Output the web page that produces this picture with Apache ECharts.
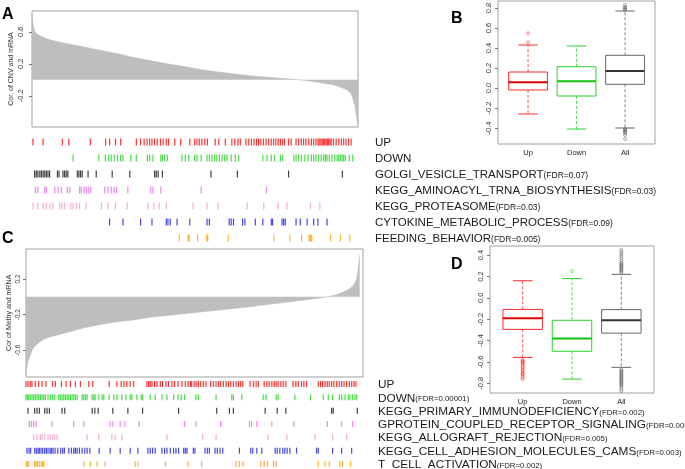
<!DOCTYPE html>
<html><head><meta charset="utf-8">
<script src="https://cdn.jsdelivr.net/npm/echarts@6/dist/echarts.min.js"></script>
<style>html,body{margin:0;padding:0;background:#fff}#c{width:685px;height:469px}</style>
</head><body><div id="c"></div>
<script>
// ---------- Panel A: ranked correlation of CNV and mRNA ----------
const rankA = [0,0.3,0.6,0.9,1.5,2.5,4,5.5,8.6,14.7,20.9,27,31,36.2,41.4,46.9,51.5,56.7,61.7,66.9,72.1,77,82.2,86.8,89.9,92.3,94.5,96.6,97.9,98.5,99.1,99.4,99.7,100];
const corA  = [0.82,0.70,0.64,0.60,0.57,0.55,0.52,0.50,0.47,0.42,0.37,0.32,0.28,0.24,0.20,0.165,0.13,0.10,0.075,0.05,0.033,0.015,0.0,-0.025,-0.045,-0.06,-0.09,-0.125,-0.17,-0.25,-0.33,-0.42,-0.50,-0.55];
const ticksA = [-0.2, 0.2, 0.6];

const namesA = ['UP','DOWN','GOLGI_VESICLE_TRANSPORT','KEGG_AMINOACYL_TRNA_BIOSYNTHESIS','KEGG_PROTEASOME','CYTOKINE_METABOLIC_PROCESS','FEEDING_BEHAVIOR'];
const fdrA = ['','','0.07','0.03','0.03','0.09','0.005'];
const upA = [0.3,3.4,9.3,11.3,17.9,22.6,23.8,25.6,27.2,32.0,33.3,34.4,35.3,36.1,36.8,37.6,38.4,39.4,40.2,41.2,41.9,43.8,45.6,48.4,49.9,50.6,51.3,52.1,53.0,53.8,56.2,57.3,59.3,61.3,62.2,63.2,63.9,65.6,66.5,67.3,68.1,68.9,69.5,70.2,71.0,71.8,72.6,73.4,74.1,74.8,75.5,76.2,76.9,77.5,78.7,79.5,81.0,81.8,82.6,83.3,84.0,84.9,85.7,86.4,87.1,87.7,88.1,88.6,89.0,89.4,89.8,90.2,90.6,91.0,91.4,91.8,92.5,93.3,94.1,94.9,95.6,96.3,97.1,97.9];
const downA = [12.6,20.5,22.5,23.5,24.3,25.2,26.2,27.2,27.9,30.3,32.0,35.4,36.1,37.1,39.5,40.0,40.7,41.5,46.0,47.0,48.1,49.9,50.6,51.9,53.7,54.4,55.2,56.0,56.7,57.5,58.3,59.1,59.8,61.1,62.4,63.4,70.8,72.1,73.4,74.4,76.2,76.9,80.3,81.0,81.8,82.6,83.7,84.7,85.7,86.4,87.1,87.9,88.7,89.5,90.0,90.5,91.2,92.0,92.9,93.6,94.1,94.6,95.1,95.6,96.1,97.3,98.4];
const golgiA = [0.8,1.3,1.8,2.4,2.9,3.4,3.9,4.4,4.9,5.4,7.8,8.3,9.5,10.0,10.5,11.0,13.9,14.4,14.9,15.4,17.2,19.7,24.6,30.0,37.6,38.1,38.7,40.0,54.9,63.0,78.7,95.2];
const aminoacylA = [1.0,1.8,3.9,4.4,7.0,8.0,9.0,10.8,11.6,14.6,15.1,16.0,16.7,17.4,18.0,22.3,23.3,24.3,25.2,25.9,29.4,36.4,37.1,39.5,51.9,71.9];
const proteasomeA = [0.3,1.8,3.4,4.4,5.5,6.4,8.5,9.2,10.0,11.9,12.6,13.6,14.6,16.6,21.3,23.3,25.6,29.2,35.6,37.4,39.0,41.2,49.4,53.7,57.1,66.0,71.1,75.5,78.2,85.4,88.3];
const cytokineA = [23.8,27.9,33.3,36.8,41.2,41.7,42.4,44.5,48.4,53.7,54.4,60.5,61.1,61.8,64.6,65.3,68.5,70.8,73.4,73.8,76.7,77.2,77.7,81.0,82.3,84.4,86.4,87.7,90.5];
const feedingA = [45.2,47.9,48.2,50.8,53.6,53.9,60.2,74.2,79.1,82.7,85.0,85.4,85.8,91.6,94.6,97.5];

// ---------- Panel B: boxplots ----------
const boxCats = ['Up','Down','All'];
const boxB = [[-0.26,-0.02,0.057,0.16,0.43],[-0.41,-0.08,0.067,0.213,0.42],[-0.40,0.037,0.17,0.327,0.77]];
const outUpB = [0.457,0.547];
const outDownB = [];
const outAllB = [0.78,0.79,0.80,0.81,0.83,-0.41,-0.415,-0.42,-0.43,-0.44,-0.45,-0.47,-0.51];
const ticksB = [-0.4,-0.2,0,0.2,0.4,0.6,0.8];

// ---------- Panel C: ranked correlation of methylation and mRNA ----------
const rankC = [0,0.3,0.6,1.2,2.1,3.3,5.1,7.2,12.3,17.1,22.2,27.3,32.1,37.2,42.3,47.1,52.3,57.4,62.2,67.3,72.4,77.2,82.3,86.8,90.4,92.8,95.2,97,98.2,99.1,99.5,99.8,100];
const corC  = [-0.85,-0.78,-0.72,-0.66,-0.58,-0.53,-0.48,-0.45,-0.40,-0.35,-0.31,-0.28,-0.26,-0.23,-0.21,-0.19,-0.17,-0.15,-0.13,-0.11,-0.085,-0.065,-0.04,-0.02,0.0,0.02,0.054,0.09,0.13,0.2,0.3,0.4,0.47];
const ticksC = [-0.6, -0.2, 0.2];

const namesC = ['UP','DOWN','KEGG_PRIMARY_IMMUNODEFICIENCY','GPROTEIN_COUPLED_RECEPTOR_SIGNALING','KEGG_ALLOGRAFT_REJECTION','KEGG_CELL_ADHESION_MOLECULES_CAMS','T_CELL_ACTIVATION'];
const fdrC = ['','0.00001','0.002','0.005','0.005','0.003','0.002'];
const upC = [0.0,0.6,1.3,1.8,2.8,3.8,4.8,6.0,8.0,8.8,10.6,12.0,13.3,14.8,16.3,18.8,20.0,24.9,27.2,28.5,29.3,30.2,31.2,32.2,36.2,36.7,37.2,37.7,38.5,39.2,40.2,40.9,41.9,42.7,43.7,44.5,45.5,46.7,47.7,48.5,49.2,49.6,50.3,50.9,51.6,52.3,53.1,53.9,55.3,56.1,56.9,57.6,58.3,59.1,59.9,60.6,61.3,62.1,62.9,63.6,64.3,64.9,67.1,68.1,68.9,69.6,71.3,72.1,72.8,73.6,74.3,74.9,75.5,76.3,77.0,77.8,79.9,80.8,81.5,82.5,83.2,84.0,87.5,88.2,88.8,89.5,90.2,90.8,91.5,92.2,93.0,93.8,94.5,95.2,96.0,96.8,97.5,98.2,98.8];
const downC = [0.0,0.4,0.8,1.3,1.8,2.3,2.8,3.3,3.8,4.3,4.8,5.3,5.8,6.6,7.3,8.0,8.6,9.8,10.3,10.8,11.3,11.8,12.3,12.8,13.3,13.8,14.3,14.8,15.3,16.8,17.3,17.8,18.3,19.8,20.3,20.7,21.8,22.8,23.3,24.9,26.3,27.2,28.7,29.9,31.2,31.7,33.2,34.5,34.9,37.2,38.7,40.7,42.2,44.2,45.5,46.5,47.5,50.9,51.6,56.9,61.6,62.1,64.6,71.0,71.9,74.9,75.5,80.5,85.2,89.0,90.5,91.8,93.8,94.5,95.5,96.5,97.0,97.8,98.5,99.0];
const immunoC = [0.6,2.6,3.3,4.0,5.6,6.3,7.0,10.8,11.6,19.8,20.6,21.6,26.0,30.5,34.9,45.7,57.1,60.9,62.1,71.6,75.2,77.8,91.5,92.0,99.2];
const gproteinC = [1.0,1.6,2.3,3.0,7.8,14.3,17.3,25.2,26.0,28.2,29.6,33.9,47.5,50.9,58.3,66.9,67.6,69.1,73.6,80.2,90.2,94.5,97.8];
const allograftC = [2.3,3.3,4.3,4.8,5.6,6.6,7.3,8.0,8.6,9.3,18.3,21.8,25.7,26.7,28.7,42.2,52.9,56.9,72.5,78.1,86.5,91.8,96.0];
const adhesionC = [0.3,0.9,1.4,2.6,3.1,3.6,4.0,4.5,5.0,5.6,6.1,6.6,7.2,7.6,8.1,8.7,9.5,10.4,11.0,11.5,12.8,13.6,14.3,14.8,15.3,16.0,16.8,17.6,18.3,19.1,21.9,25.2,28.2,31.2,33.5,36.5,37.2,37.9,38.7,40.7,41.5,42.2,43.2,44.2,44.9,45.7,47.2,47.7,48.2,50.1,50.6,53.6,54.3,54.9,56.6,57.3,58.1,58.9,63.9,67.3,67.9,69.1,70.6,74.6,75.2,76.0,76.9,77.5,78.2,79.0,81.0,87.0,87.5,91.8,94.5,97.5];
const tcellC = [0.0,0.4,0.8,2.6,3.0,3.4,4.0,4.6,5.0,5.4,17.3,19.3,21.3,23.7,32.7,33.5,41.7,48.5,52.6,62.9,63.9,64.9,70.3,71.3,72.3,74.1,74.9,87.5,89.5,90.8,94.0,94.8,97.2];

// ---------- Panel D: boxplots ----------
const boxD = [[-0.557,-0.295,-0.19,-0.108,0.16],[-0.76,-0.50,-0.38,-0.21,0.18],[-0.65,-0.33,-0.21,-0.11,0.22]];
const outUpD = [-0.58,-0.59,-0.60,-0.61,-0.62,-0.64,-0.65,-0.67,-0.68,-0.70,-0.71,-0.72,-0.74,-0.76];
const outDownD = [0.25];
const outAllD = [0.235,0.245,0.255,0.265,0.275,0.285,0.295,0.30,0.31,0.32,0.33,0.35,0.37,0.39,0.41,0.43,0.45,-0.67,-0.68,-0.69,-0.70,-0.71,-0.72,-0.73,-0.74,-0.75,-0.76,-0.77,-0.78,-0.79,-0.80,-0.81,-0.82,-0.83,-0.85,-0.87];
const ticksD = [-0.8,-0.6,-0.4,-0.2,0,0.2,0.4];

// ---------- styling ----------
const FONT = 'Liberation Sans, Arial, sans-serif';
const setColors = ['#ff0000','#1fd41f','#111111','#dd6fe8','#f09cc4','#1a1ae0','#ffa000'];
const boxColors = ['#ff2a2a','#2ad42a','#666666'];
const medColors = ['#e00000','#10c010','#333333'];
const frameColor = '#a0a0a0';

const chart = echarts.init(document.getElementById('c'), null, {renderer:'canvas'});

function fmt1(v){ return (Math.abs(v) < 1e-9 ? 0 : v).toFixed(1); }

function valY(grid, min, max, ticks, opts) {
  return Object.assign({
    type:'value', gridIndex:grid, min:min, max:max, splitLine:{show:false},
    axisLine:{show:false},
    axisTick:{show:true, length:3, lineStyle:{color:'#555', width:0.8}, customValues:ticks},
    axisLabel:{show:true, rotate:90, fontSize:7.5, color:'#333', fontFamily:FONT, margin:5, customValues:ticks, formatter:fmt1}
  }, opts || {});
}
function hiddenX(grid, min, max){ return {type:'value', gridIndex:grid, min:min, max:max, show:false}; }
function hiddenY(grid, min, max){ return {type:'value', gridIndex:grid, min:min, max:max, show:false}; }

function setAxis(grid, names, fdr, mainSize, fdrSize, margin){
  return {
    type:'category', gridIndex:grid, data:names, inverse:true, position:'right',
    axisLine:{show:false}, axisTick:{show:false}, splitLine:{show:false},
    axisLabel:{margin:margin, align:'left', interval:0, hideOverlap:false,
      formatter:function(v, i){ return fdr[i] ? '{m|' + v + '}{f|(FDR=' + fdr[i] + ')}' : '{m|' + v + '}'; },
      rich:{ m:{fontSize:mainSize, fontFamily:FONT, color:'#1a1a1a', verticalAlign:'bottom', lineHeight:mainSize+2},
             f:{fontSize:fdrSize, fontFamily:FONT, color:'#1a1a1a', verticalAlign:'bottom', lineHeight:mainSize+2, padding:[0,0,1,0]} }
    }
  };
}
function catAxis(grid){
  return {type:'category', gridIndex:grid, data:boxCats, boundaryGap:true,
    axisLine:{show:false}, axisTick:{show:false},
    axisLabel:{fontSize:7.5, color:'#222', fontFamily:FONT, margin:5}};
}

function barcodeSeries(sets, xi, yi, h){
  return sets.map(function(s, i){
    return {type:'scatter', xAxisIndex:xi, yAxisIndex:yi, symbol:'rect', symbolSize:[1.2, h], silent:true,
      itemStyle:{color:setColors[i]}, data:s.map(function(p){ return [p, i]; })};
  });
}

function boxSeries(stats, xi, yi){
  return {
    type:'custom', xAxisIndex:xi, yAxisIndex:yi, silent:true,
    data: stats.map(function(s, i){ return [i].concat(s); }),
    encode:{x:0, y:[1,2,3,4,5]},
    renderItem:function(params, api){
      var i = api.value(0);
      var lo = api.coord([i, api.value(1)]), q1 = api.coord([i, api.value(2)]),
          md = api.coord([i, api.value(3)]), q3 = api.coord([i, api.value(4)]),
          hi = api.coord([i, api.value(5)]);
      var bw = api.size([1, 0])[0] * 0.8, x = md[0], c = boxColors[i];
      var dash = {stroke:c, lineWidth:0.8, lineDash:[3,2], fill:null};
      var solid = {stroke:c, lineWidth:1, fill:null};
      return {type:'group', children:[
        {type:'line', shape:{x1:x, y1:q3[1], x2:x, y2:hi[1]}, style:dash},
        {type:'line', shape:{x1:x, y1:q1[1], x2:x, y2:lo[1]}, style:dash},
        {type:'line', shape:{x1:x-bw/4, y1:hi[1], x2:x+bw/4, y2:hi[1]}, style:solid},
        {type:'line', shape:{x1:x-bw/4, y1:lo[1], x2:x+bw/4, y2:lo[1]}, style:solid},
        {type:'rect', shape:{x:x-bw/2, y:q3[1], width:bw, height:q1[1]-q3[1]}, style:{stroke:c, lineWidth:1, fill:'#fff'}},
        {type:'line', shape:{x1:x-bw/2, y1:md[1], x2:x+bw/2, y2:md[1]}, style:{stroke:medColors[i], lineWidth:2}}
      ]};
    }
  };
}
function outlierSeries(lists, xi, yi){
  return lists.map(function(l, i){
    return {type:'scatter', xAxisIndex:xi, yAxisIndex:yi, symbol:'circle', symbolSize:3, silent:true,
      itemStyle:{color:'rgba(255,255,255,0)', borderColor:boxColors[i], borderWidth:0.7},
      data:l.map(function(v){ return [i, v]; })};
  });
}

function grid(left, top, width, height, framed){
  var g = {left:left, top:top, width:width, height:height, outerBoundsMode:'none', containLabel:false};
  if (framed) { g.show = true; g.borderColor = frameColor; g.borderWidth = 1; g.backgroundColor = 'transparent'; }
  return g;
}

const option = {
  animation:false,
  backgroundColor:'#ffffff',
  grid:[
    grid(32, 11, 326, 116, true),
    grid(32, 134, 326, 112, false),
    grid(498, 1, 157, 143, true),
    grid(503.8, 1, 145.5, 143, false),
    grid(26, 249, 337, 128, true),
    grid(26, 377.4, 334, 93.2, false),
    grid(490, 246, 164, 147, true),
    grid(498, 246, 148, 147, false)
  ],
  xAxis:[
    hiddenX(0, 0, 100), hiddenX(1, 0, 100), hiddenX(2, 0, 1), catAxis(3),
    hiddenX(4, 0, 101), hiddenX(5, 0, 100), hiddenX(6, 0, 1), catAxis(7)
  ],
  yAxis:[
    valY(0, -0.59, 0.86, ticksA, {axisLabel:{show:true, rotate:90, fontSize:7.5, color:'#333', fontFamily:FONT, margin:7, customValues:ticksA, formatter:fmt1},
      name:'Cor. of CNV and mRNA', nameLocation:'middle', nameGap:17, nameTextStyle:{fontSize:7, fontFamily:FONT, color:'#333'}}),
    setAxis(1, namesA, fdrA, 11.5, 8.5, 17),
    valY(2, -0.56, 0.87, ticksB),
    hiddenY(3, -0.56, 0.87),
    valY(4, -0.9, 0.537, ticksC, {axisLabel:{show:true, rotate:90, fontSize:6.5, color:'#333', fontFamily:FONT, margin:4, customValues:ticksC, formatter:fmt1},
      name:'Cor of Methy and mRNA', nameLocation:'middle', nameGap:13, nameTextStyle:{fontSize:7, fontFamily:FONT, color:'#333'}}),
    setAxis(5, namesC, fdrC, 11.8, 7.8, 18),
    valY(6, -0.89, 0.485, ticksD),
    hiddenY(7, -0.89, 0.485)
  ],
  graphic:[
    {type:'text', left:2, top:7, style:{text:'A', font:'bold 16px ' + FONT, fill:'#000'}},
    {type:'text', left:451, top:11, style:{text:'B', font:'bold 16px ' + FONT, fill:'#000'}},
    {type:'text', left:2, top:231, style:{text:'C', font:'bold 16px ' + FONT, fill:'#000'}},
    {type:'text', left:451, top:257, style:{text:'D', font:'bold 16px ' + FONT, fill:'#000'}}
  ],
  series:[].concat(
    [{type:'line', xAxisIndex:0, yAxisIndex:0, showSymbol:false, symbol:'none', silent:true,
      lineStyle:{width:0.6, color:'#bebebe'}, areaStyle:{color:'#bebebe', opacity:1},
      data:rankA.map(function(r, i){ return [r, corA[i]]; })}],
    barcodeSeries([upA, downA, golgiA, aminoacylA, proteasomeA, cytokineA, feedingA], 1, 1, 7),
    [{type:'scatter', xAxisIndex:2, yAxisIndex:2, data:[]}],
    [boxSeries(boxB, 3, 3)],
    outlierSeries([outUpB, outDownB, outAllB], 3, 3),
    [{type:'line', xAxisIndex:4, yAxisIndex:4, showSymbol:false, symbol:'none', silent:true,
      lineStyle:{width:0.6, color:'#bebebe'}, areaStyle:{color:'#bebebe', opacity:1},
      data:rankC.map(function(r, i){ return [r, corC[i]]; })}],
    barcodeSeries([upC, downC, immunoC, gproteinC, allograftC, adhesionC, tcellC], 5, 5, 6),
    [{type:'scatter', xAxisIndex:6, yAxisIndex:6, data:[]}],
    [boxSeries(boxD, 7, 7)],
    outlierSeries([outUpD, outDownD, outAllD], 7, 7)
  )
};
chart.setOption(option);
</script>
</body></html>
